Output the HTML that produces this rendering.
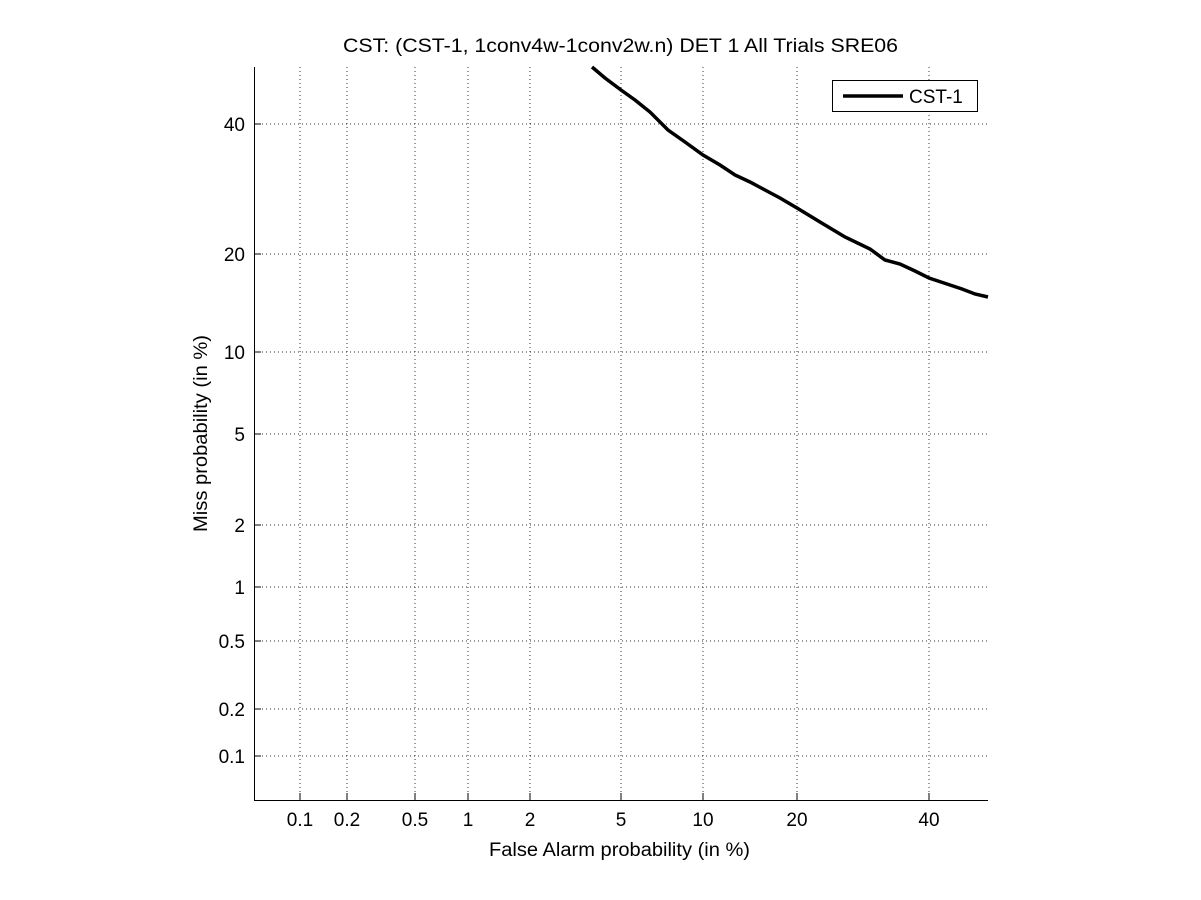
<!DOCTYPE html>
<html><head><style>body{margin:0;background:#fff}svg{display:block}text{font-family:"Liberation Sans",sans-serif;font-size:19px;fill:#000}</style></head>
<body>
<svg width="1201" height="900" xmlns="http://www.w3.org/2000/svg">
<rect width="1201" height="900" fill="#fff"/>
<g stroke="#333" stroke-width="1" stroke-dasharray="1,3">
<line x1="300" y1="67" x2="300" y2="800"/><line x1="347" y1="67" x2="347" y2="800"/><line x1="415" y1="67" x2="415" y2="800"/><line x1="468" y1="67" x2="468" y2="800"/><line x1="530" y1="67" x2="530" y2="800"/><line x1="621" y1="67" x2="621" y2="800"/><line x1="703" y1="67" x2="703" y2="800"/><line x1="797" y1="67" x2="797" y2="800"/><line x1="929" y1="67" x2="929" y2="800"/>
<line x1="254" y1="124" x2="988" y2="124"/><line x1="254" y1="254" x2="988" y2="254"/><line x1="254" y1="352" x2="988" y2="352"/><line x1="254" y1="434" x2="988" y2="434"/><line x1="254" y1="525" x2="988" y2="525"/><line x1="254" y1="587" x2="988" y2="587"/><line x1="254" y1="641" x2="988" y2="641"/><line x1="254" y1="709" x2="988" y2="709"/><line x1="254" y1="756" x2="988" y2="756"/>
</g>
<g stroke="#000" stroke-width="1">
<line x1="254.5" y1="67" x2="254.5" y2="800"/><line x1="254" y1="800.5" x2="988" y2="800.5"/>
<path d="M300 800v-7M347 800v-7M415 800v-7M468 800v-7M530 800v-7M621 800v-7M703 800v-7M797 800v-7M929 800v-7M254 124h7M254 254h7M254 352h7M254 434h7M254 525h7M254 587h7M254 641h7M254 709h7M254 756h7"/>
</g>
<polyline fill="none" stroke="#000" stroke-width="3.5" points="592,67 605,78 621,90 635,100 650,112 668,130 685,142 703,155 720,165 735,175 750,182 765,190 780,198 797,208 820,222 845,237 870,249 885,260 900,264 915,271 929,278 950,285 962,289 975,294 988,297"/>
<g text-anchor="middle">
<text x="300" y="826">0.1</text><text x="347" y="826">0.2</text><text x="415" y="826">0.5</text><text x="468" y="826">1</text><text x="530" y="826">2</text><text x="621" y="826">5</text><text x="703" y="826">10</text><text x="797" y="826">20</text><text x="929" y="826">40</text>
</g>
<text x="343" y="52" textLength="555" lengthAdjust="spacingAndGlyphs">CST: (CST-1, 1conv4w-1conv2w.n) DET 1 All Trials SRE06</text>
<text x="489" y="856" textLength="261" lengthAdjust="spacingAndGlyphs">False Alarm probability (in %)</text>
<text transform="translate(207,532) rotate(-90)" textLength="197" lengthAdjust="spacingAndGlyphs">Miss probability (in %)</text>
<g text-anchor="end">
<text x="245" y="131">40</text><text x="245" y="261">20</text><text x="245" y="359">10</text><text x="245" y="441">5</text><text x="245" y="532">2</text><text x="245" y="594">1</text><text x="245" y="648">0.5</text><text x="245" y="716">0.2</text><text x="245" y="763">0.1</text>
</g>
<rect x="832.5" y="80.5" width="145" height="31" fill="#fff" stroke="#000"/>
<line x1="843" y1="96" x2="903" y2="96" stroke="#000" stroke-width="3.5"/>
<text x="909" y="103">CST-1</text>
</svg>
</body></html>
